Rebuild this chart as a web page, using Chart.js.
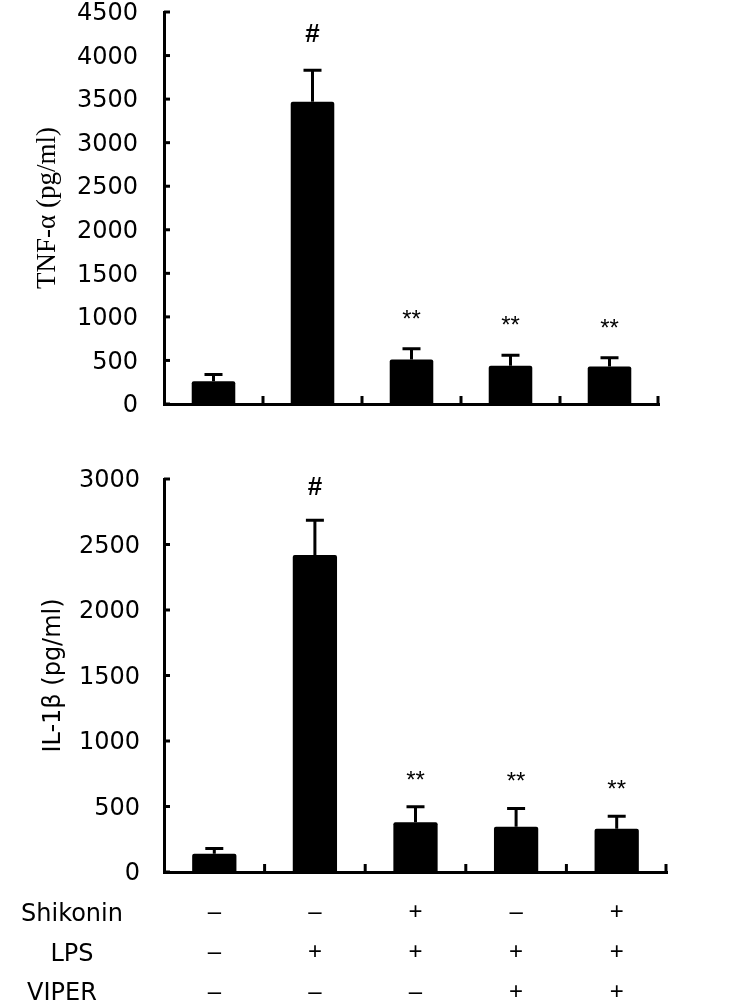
<!DOCTYPE html>
<html>
<head>
<meta charset="utf-8">
<script src="https://cdn.jsdelivr.net/npm/chart.js@4/dist/chart.umd.min.js"></script>
<style>
  html, body { margin:0; padding:0; background:#fff; }
  body { width:731px; height:1008px; position:relative; overflow:hidden; font-family:"DejaVu Sans", sans-serif; }
  .box { position:absolute; left:0; width:731px; }
  .rowlab { position:absolute; font-family:"DejaVu Sans", sans-serif; font-size:24px; color:#000; line-height:1; transform:translate(-50%,-50%); white-space:nowrap; }
</style>
</head>
<body>
<div class="box" style="top:0;height:440px;"><canvas id="c1"></canvas></div>
<div class="box" style="top:440px;height:568px;"><canvas id="c2"></canvas></div>
<div id="rows"></div>
<script>
// ---- data ----
const groups = ['G1', 'G2', 'G3', 'G4', 'G5'];
const rowNames = ['Shikonin', 'LPS', 'VIPER'];
const shikonin = ['–', '–', '+', '–', '+'];
const lps      = ['–', '+', '+', '+', '+'];
const viper    = ['–', '–', '–', '+', '+'];
const tnfMean  = [260, 3470, 510, 440, 430];
const tnfErr   = [80, 360, 125, 120, 100];
const il1bMean = [140, 2420, 380, 345, 330];
const il1bErr  = [40, 265, 118, 140, 95];
const sigMarks = ['', '#', '**', '**', '**'];
const tnfTicksMax = 4500;
const il1bTicksMax = 3000;
const tickStep = 500;

// ---- decorations plugin: inward ticks, separators, error bars, significance marks ----
const decor = {
  id: 'decor',
  afterDatasetsDraw(chart, args, opts) {
    const { ctx, chartArea: a, scales: { x, y } } = chart;
    ctx.save();
    ctx.strokeStyle = '#000';
    ctx.fillStyle = '#000';
    ctx.lineWidth = 3;
    y.ticks.forEach((t, i) => {
      const py = y.getPixelForTick(i);
      ctx.beginPath(); ctx.moveTo(a.left, py); ctx.lineTo(a.left + 6, py); ctx.stroke();
    });
    const n = x.ticks.length;
    for (let i = 1; i <= n; i++) {
      const px = i < n ? (x.getPixelForTick(i - 1) + x.getPixelForTick(i)) / 2 : a.right - 1;
      ctx.beginPath(); ctx.moveTo(px, a.bottom); ctx.lineTo(px, a.bottom - 8); ctx.stroke();
    }
    const meta = chart.getDatasetMeta(0);
    const data = chart.data.datasets[0].data;
    meta.data.forEach((bar, i) => {
      const v = data[i], e = opts.err[i];
      const top = y.getPixelForValue(v);
      const et = y.getPixelForValue(v + e);
      ctx.beginPath();
      ctx.moveTo(bar.x, top); ctx.lineTo(bar.x, et);
      ctx.moveTo(bar.x - 9, et); ctx.lineTo(bar.x + 9, et);
      ctx.stroke();
      const m = opts.marks[i];
      if (m) {
        ctx.textAlign = 'center';
        ctx.textBaseline = 'alphabetic';
        const cy = et - opts.markOffset;
        if (m === '#') {
          ctx.font = 'bold 26px "Liberation Sans", Arial, sans-serif';
          ctx.fillText(m, bar.x, cy + 9);
        } else {
          ctx.font = '24px "Liberation Sans", Arial, sans-serif';
          ctx.fillText(m, bar.x, cy + 15);
        }
      }
    });
    ctx.restore();
  }
};

function makeChart(id, mean, err, max, title, titleFont, opt) {
  return new Chart(document.getElementById(id), {
    type: 'bar',
    data: {
      labels: opt.labels,
      datasets: [{ data: mean, backgroundColor: '#000', borderWidth: 0, borderRadius: 2,
                   barPercentage: 0.44, categoryPercentage: 1.0 }]
    },
    plugins: [decor],
    options: {
      responsive: true, maintainAspectRatio: false, animation: false,
      layout: { padding: { top: opt.padTop, right: opt.padRight, left: 0, bottom: 0 } },
      plugins: {
        legend: { display: false }, tooltip: { enabled: false },
        decor: { err: err, marks: sigMarks, markOffset: opt.markOffset }
      },
      scales: {
        x: {
          grid: { display: false, drawTicks: false },
          border: { display: true, color: '#000', width: 3 },
          ticks: {
            display: opt.showX, color: '#000', maxRotation: 0, autoSkip: false, padding: 20,
            font: { family: '"Liberation Sans", Arial, sans-serif', size: 24, lineHeight: 40 / 24 }
          },
          afterFit: s => { s.height = opt.xHeight; s.paddingLeft = 0; s.paddingRight = 0; }
        },
        y: {
          min: 0, max: max,
          grid: { display: false, drawTicks: false },
          border: { display: true, color: '#000', width: 3 },
          ticks: {
            stepSize: tickStep, color: '#000', padding: opt.tickPad, labelOffset: 2,
            callback: v => String(v),
            font: { family: '"DejaVu Sans", sans-serif', size: 24 }
          },
          title: {
            display: true, text: title, color: '#000',
            font: titleFont, padding: { top: opt.titlePad, bottom: 0 }
          },
          afterFit: s => { s.width = 164; s.paddingTop = 0; s.paddingBottom = 0; }
        }
      }
    }
  });
}

makeChart('c1', tnfMean, tnfErr, tnfTicksMax, 'TNF-α (pg/ml)',
  { family: '"Liberation Serif", "Times New Roman", serif', size: 27, lineHeight: 1.2 },
  { labels: groups, showX: false, padTop: 12, padRight: 72, xHeight: 36, tickPad: 26, titlePad: 32, markOffset: 37 });

const comboLabels = groups.map((g, i) => [shikonin[i], lps[i], viper[i]]);
makeChart('c2', il1bMean, il1bErr, il1bTicksMax, 'IL-1β (pg/ml)',
  { family: '"DejaVu Sans", sans-serif', size: 24, lineHeight: 1.2 },
  { labels: comboLabels, showX: true, padTop: 39, padRight: 64, xHeight: 136, tickPad: 24, titlePad: 39, markOffset: 34 });

const rowPos = [[72, 913], [72, 953], [62, 992]];
const rowsDiv = document.getElementById('rows');
rowNames.forEach((name, i) => {
  const d = document.createElement('div');
  d.className = 'rowlab';
  d.textContent = name;
  d.style.left = rowPos[i][0] + 'px';
  d.style.top = rowPos[i][1] + 'px';
  rowsDiv.appendChild(d);
});
</script>
</body>
</html>
